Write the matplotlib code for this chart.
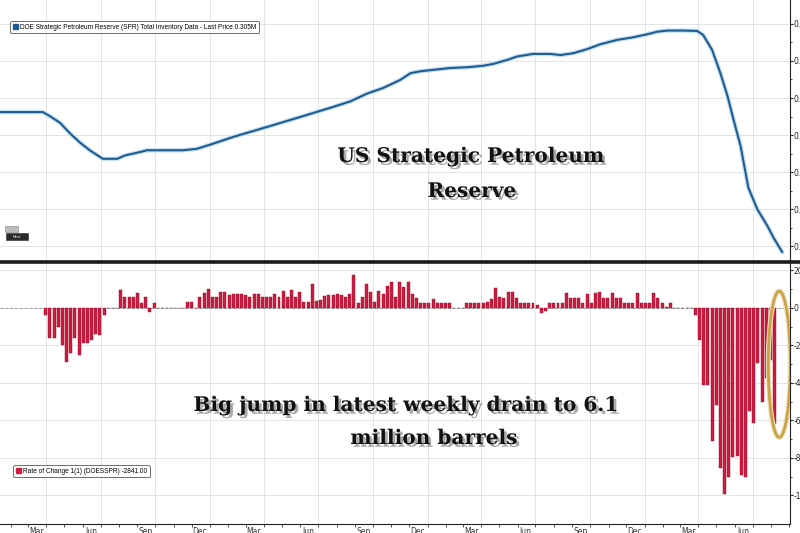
import matplotlib
matplotlib.use('Agg')
import matplotlib.pyplot as plt
import matplotlib.dates as mdates
import matplotlib.patheffects as pe
from matplotlib.patches import Ellipse, Rectangle, Patch
from matplotlib.lines import Line2D
import pandas as pd

# SPR total inventory (top panel)
level_dates = ['2019-01-13', '2019-03-26', '2019-04-07', '2019-04-24', '2019-05-11', '2019-05-28',
               '2019-06-13', '2019-06-30', '2019-07-05', '2019-07-29', '2019-08-11', '2019-09-05',
               '2019-09-17', '2019-10-09', '2019-11-17', '2019-12-10', '2020-01-01', '2020-02-09',
               '2020-04-06', '2020-06-01', '2020-07-26', '2020-08-24', '2020-09-21', '2020-10-18',
               '2020-11-16', '2020-12-03', '2020-12-19', '2021-01-10', '2021-02-08', '2021-03-08',
               '2021-04-04', '2021-04-21', '2021-05-15', '2021-05-31', '2021-06-27', '2021-07-26',
               '2021-08-12', '2021-09-03', '2021-09-26', '2021-10-18', '2021-11-16', '2021-12-13',
               '2022-01-05', '2022-01-22', '2022-02-08', '2022-03-07', '2022-03-30', '2022-04-09',
               '2022-04-24', '2022-05-08', '2022-05-20', '2022-05-30', '2022-06-11', '2022-06-24',
               '2022-07-09', '2022-07-26', '2022-08-05', '2022-08-20']
level_values = [0.3462, 0.3462, 0.3451, 0.3433, 0.3404, 0.3379,
                0.3359, 0.3341, 0.3336, 0.3336, 0.3345, 0.3354,
                0.3359, 0.3359, 0.3359, 0.3363, 0.3374, 0.3395,
                0.3422, 0.3449, 0.3476, 0.3491, 0.3512, 0.3527,
                0.3549, 0.3567, 0.3572, 0.3576, 0.3581, 0.3583,
                0.3587, 0.3592, 0.3603, 0.3612, 0.3619, 0.3619,
                0.3616, 0.3621, 0.3632, 0.3645, 0.3657, 0.3664,
                0.3672, 0.3679, 0.3682, 0.3682, 0.3681, 0.3670,
                0.3630, 0.3567, 0.3505, 0.3442, 0.3370, 0.3258,
                0.3200, 0.3155, 0.3124, 0.3084]

# weekly rate of change (thousand barrels), first week below
change_start = '2019-03-31'
change_values = [
    -380, -1600, -1600, -1000, -2000, -2900, -2400, -1600, -2500, -1850, -1850, -1700, -1400, -1450, -380,
    0, 0, 0,
    960, 600, 570, 600, 790, 290, 570, -230, 290,
    0, 0, 0, 0, 0, 0, 0,
    300, 300, 0,
    600, 790, 1000, 570, 570, 870, 870, 700, 730, 730, 730, 700, 570, 730, 730, 600,
    600, 600, 730, 570, 930, 600, 960, 570, 870, 340, 340, 1290, 390, 430, 640, 700,
    700, 730, 700, 600, 750, 1770, 250, 600, 1290, 870, 340, 930, 750, 1180, 1380, 570,
    1380, 1140, 1410, 730, 520, 250, 250, 250, 460, 250, 250, 250, 250,
    0, 0, 0,
    290, 290, 290, 290, 290,
    340, 460, 1050, 570, 520, 840, 840, 520, 250, 250, 250, 250, 160, -290, -140, 250, 250, 250, 250,
    790, 520, 520, 520, 250, 750, 290, 820, 840, 520, 520, 820, 520, 520, 250, 250, 250, 820,
    250, 250, 250, 820, 520, 250, 70, 250,
    0, 0, 0, 0, 0,
    -370, -1700, -4100, -4100, -7100, -5200, -8550, -9900, -9000, -7960, -7900, -8900, -9000,
    -5500, -6150, -2950, -5000, -3750, -2800, -6200]

top_ticks = [0.31, 0.32, 0.33, 0.34, 0.35, 0.36, 0.37]
bot_ticks = [2000, 0, -2000, -4000, -6000, -8000, -10000]

level_x = pd.to_datetime(level_dates)
change_x = pd.date_range(change_start, periods=len(change_values), freq='7D')

W, H = 800, 533
fig = plt.figure(figsize=(8, 5.33), dpi=100)
fig.patch.set_facecolor('white')

ax_top = fig.add_axes([0, 1 - 261 / H, 790 / W, 261 / H])
ax_bot = fig.add_axes([0, 1 - 524 / H, 790 / W, 261 / H], sharex=ax_top)

x0, x1 = pd.Timestamp('2019-01-13'), pd.Timestamp('2022-09-02')
grid_c = '#e4e4e4'

for ax in (ax_top, ax_bot):
    for s in ('left', 'top'):
        ax.spines[s].set_visible(False)
    ax.spines['right'].set_color('#222222')
    ax.spines['right'].set_linewidth(0.8)
    ax.yaxis.tick_right()
    ax.tick_params(axis='y', which='major', labelsize=5.5, length=1.8, pad=0.6, colors='#222222')
    ax.tick_params(axis='y', which='minor', length=1.2, colors='#222222')
    ax.grid(axis='y', color=grid_c, lw=0.7)
    for q in pd.date_range('2019-04-01', '2022-09-01', freq='QS'):
        ax.axvline(q, color=grid_c, lw=0.7, zorder=0)
    ax.set_axisbelow(True)

# top panel: inventory level
ax_top.plot(level_x, level_values, color='#1f5c8f', lw=1.5, solid_capstyle='round',
            path_effects=[pe.Stroke(linewidth=3.2, foreground='#c4def2'), pe.Normal()])
ax_top.set_xlim(x0, x1)
ax_top.set_ylim(0.30602, 0.37645)
ax_top.set_yticks(top_ticks)
ax_top.set_yticklabels(['%.2f' % t for t in top_ticks])
ax_top.set_yticks([t + 0.005 for t in top_ticks[:-1]], minor=True)
ax_top.spines['bottom'].set_visible(False)
ax_top.tick_params(axis='x', which='both', bottom=False, labelbottom=False)

# bottom panel: weekly change
ax_bot.axhline(0, color='#9a9a9a', lw=0.7, ls=(0, (3, 2)), zorder=1)
ax_bot.bar(change_x, change_values, width=5, color='#d01a40', edgecolor='#8c0e2a', lw=0.3, zorder=2)
ax_bot.set_ylim(-11520, 2400)
ax_bot.set_yticks(bot_ticks)
ax_bot.set_yticklabels([str(t) for t in bot_ticks])
ax_bot.set_yticks([t - 1000 for t in bot_ticks[:-1]], minor=True)
ax_bot.spines['bottom'].set_color('#222222')
ax_bot.spines['bottom'].set_linewidth(0.8)
ax_bot.xaxis.set_major_locator(mdates.MonthLocator(bymonth=[3, 6, 9, 12], bymonthday=15))
ax_bot.xaxis.set_major_formatter(mdates.DateFormatter('%b'))
ax_bot.xaxis.set_minor_locator(mdates.MonthLocator(bymonthday=1))
ax_bot.tick_params(axis='x', which='major', length=0, pad=2, labelsize=5.5, colors='#333333')
ax_bot.tick_params(axis='x', which='minor', length=2, colors='#333333')

# separator between panels
fig.add_artist(Line2D([0, 1], [1 - 262 / H, 1 - 262 / H], transform=fig.transFigure,
                      color='#1a1a1a', lw=2.6))

# legends
leg1 = ax_top.legend([Patch(fc='#1f5a96', ec='#1f5a96')],
                     ['DOE Strategic Petroleum Reserve (SPR) Total Inventory Data - Last Price 0.305M'],
                     loc='upper left', bbox_to_anchor=(7 / 790, 1 - 18 / 261),
                     prop={'family': 'Liberation Sans', 'size': 4.7},
                     handlelength=0.8, handleheight=0.8, handletextpad=0.4, borderpad=0.35,
                     fancybox=True, framealpha=1, edgecolor='#555555')
leg1.get_frame().set_linewidth(0.6)
leg2 = ax_bot.legend([Patch(fc='#d01a40', ec='#d01a40')],
                     ['Rate of Change 1(1) (DOESSPR) -2841.00'],
                     loc='upper left', bbox_to_anchor=(10 / 790, (524 - 462) / 261),
                     prop={'family': 'Liberation Sans', 'size': 4.7},
                     handlelength=0.8, handleheight=0.8, handletextpad=0.4, borderpad=0.35,
                     fancybox=True, framealpha=1, edgecolor='#555555')
leg2.get_frame().set_linewidth(0.6)

# small "Next" widget in top panel
fig.add_artist(Rectangle((5 / W, 1 - 232 / H), 13 / W, 6 / H, transform=fig.transFigure,
                         fc='#bbbbbb', ec='#888888', lw=0.4))
fig.add_artist(Rectangle((6 / W, 1 - 240 / H), 22 / W, 7 / H, transform=fig.transFigure,
                         fc='#2a2a2a', ec='#2a2a2a', lw=0.4))
fig.text(17 / W, 1 - 236.5 / H, 'Next', fontsize=2.5, color='white', ha='center', va='center')

# highlight latest week
ax_bot.add_patch(Ellipse((change_x[-1] + pd.Timedelta(days=8), -3000), 37, 7800,
                         fill=False, ec='#c9a24a', lw=2.0, zorder=5,
                         path_effects=[pe.Stroke(linewidth=3.6, foreground='#f1e3b8'), pe.Normal()]))

# annotations
shadow = [pe.withSimplePatchShadow(offset=(2, -2), shadow_rgbFace='#444444', alpha=0.45)]
txt = dict(family='DejaVu Serif', weight='bold', fontsize=14.5, color='#111111',
           ha='center', va='center', path_effects=shadow)
fig.text(471 / W, 1 - 156 / H, 'US Strategic Petroleum', **txt)
fig.text(472 / W, 1 - 191 / H, 'Reserve', **txt)
fig.text(406 / W, 1 - 405 / H, 'Big jump in latest weekly drain to 6.1', **txt)
fig.text(434 / W, 1 - 438 / H, 'million barrels', **txt)

fig.savefig('out.png', dpi=100)
